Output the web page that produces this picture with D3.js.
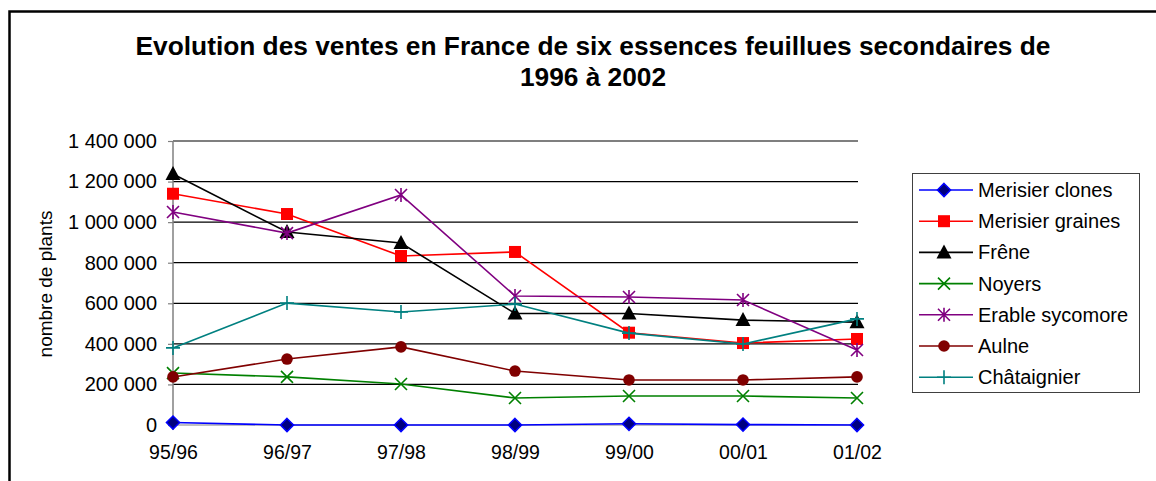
<!DOCTYPE html>
<html>
<head>
<meta charset="utf-8">
<script src="https://cdn.jsdelivr.net/npm/d3@7.9.0/dist/d3.min.js"></script>
<style>
  body { margin: 0; background: #fff; }
  svg { display: block; font-family: "Liberation Sans", Arial, sans-serif; }
</style>
</head>
<body>
<svg id="chart" width="1156" height="481"></svg>
<script>
// data
const seasons = ["95/96", "96/97", "97/98", "98/99", "99/00", "00/01", "01/02"];
const yTicks = [0, 200000, 400000, 600000, 800000, 1000000, 1200000, 1400000];

const merisierClones = [12000, 0, 0, 0, 6000, 2000, 0];
const merisierGraines = [1140000, 1040000, 833000, 853000, 455000, 404000, 424000];
const frene = [1237000, 951000, 897000, 550000, 550000, 517000, 507000];
const noyers = [256000, 237000, 202000, 133000, 143000, 143000, 133000];
const erable = [1050000, 946000, 1134000, 636000, 631000, 616000, 370000];
const aulne = [237000, 325000, 385000, 266000, 222000, 222000, 237000];
const chataignier = [380000, 601000, 557000, 596000, 453000, 399000, 523000];

const seriesNames = ["Merisier clones", "Merisier graines", "Frêne", "Noyers", "Erable sycomore", "Aulne", "Châtaignier"];
const seriesValues = [merisierClones, merisierGraines, frene, noyers, erable, aulne, chataignier];
const seriesColors = ["#0000ff", "#ff0000", "#000000", "#008000", "#800080", "#800000", "#008080"];
const markerTypes = ["diamond", "square", "triangle", "x", "star", "circle", "plus"];

const svg = d3.select("#chart");

// outer frame (only top and left edges are visible)
svg.append("path")
    .attr("d", "M9.5,481 V11.5 H1156")
    .attr("fill", "none")
    .attr("stroke", "#000")
    .attr("stroke-width", 2.5);

// title
const title = svg.append("text")
    .attr("text-anchor", "middle")
    .attr("font-weight", "bold")
    .attr("font-size", 26.3)
    .attr("fill", "#000");
title.append("tspan").attr("x", 593).attr("y", 55)
    .text("Evolution des ventes en France de six essences feuillues secondaires de");
title.append("tspan").attr("x", 593).attr("y", 86).text("1996 à 2002");

const x = d3.scalePoint().domain(seasons).range([173, 857]);
const y = d3.scaleLinear().domain([0, 1400000]).range([425, 141]);

// gridlines
svg.append("g")
    .selectAll("line")
    .data(yTicks.slice(1))
    .join("line")
    .attr("x1", 173).attr("x2", 858)
    .attr("y1", d => y(d)).attr("y2", d => y(d))
    .attr("stroke", "#000")
    .attr("stroke-width", 1.2);

// y axis
const fmt = d => d3.format(",")(d).replace(/,/g, " ");
const yAxis = svg.append("g")
    .attr("transform", "translate(173,0)")
    .call(d3.axisLeft(y).tickValues(yTicks).tickSize(5).tickPadding(11).tickFormat(fmt));
yAxis.select(".domain").attr("stroke", "#808080").attr("stroke-width", 1.5)
    .attr("d", `M0,${y(1400000)}V${y(0) + 5}`);
yAxis.selectAll(".tick line").attr("stroke", "#808080").attr("stroke-width", 1.2);
yAxis.selectAll(".tick text")
    .attr("font-size", 20)
    .attr("font-family", "Liberation Sans, Arial, sans-serif")
    .attr("fill", "#000");

// x axis
const xAxis = svg.append("g")
    .attr("transform", `translate(0,${y(0)})`)
    .call(d3.axisBottom(x).tickSize(0).tickPadding(20));
xAxis.select(".domain").attr("stroke", "#808080").attr("stroke-width", 1.2)
    .attr("d", `M173,0H858`);
xAxis.selectAll(".tick text")
    .attr("font-size", 19.5)
    .attr("font-family", "Liberation Sans, Arial, sans-serif")
    .attr("fill", "#000");

// y axis title
svg.append("text")
    .attr("transform", "translate(52,284) rotate(-90)")
    .attr("text-anchor", "middle")
    .attr("font-size", 19)
    .attr("fill", "#000")
    .text("nombre de plants");

// marker drawing
function drawMarker(g, type, color) {
    const s = 6;
    if (type === "diamond") {
        g.append("path").attr("d", d3.symbol(d3.symbolDiamond2, 110)())
            .attr("fill", "#000080").attr("stroke", color).attr("stroke-width", 1.5);
    } else if (type === "square") {
        g.append("rect").attr("x", -s).attr("y", -s).attr("width", 2 * s).attr("height", 2 * s)
            .attr("fill", color);
    } else if (type === "triangle") {
        g.append("path").attr("d", "M0,-8L7.5,6H-7.5Z").attr("fill", color);
    } else if (type === "circle") {
        g.append("circle").attr("r", 5.8).attr("fill", color);
    } else if (type === "x") {
        g.append("path").attr("d", `M${-s},${-s}L${s},${s}M${-s},${s}L${s},${-s}`)
            .attr("stroke", color).attr("stroke-width", 1.6);
    } else if (type === "star") {
        g.append("path").attr("d", `M${-s},${-s}L${s},${s}M${-s},${s}L${s},${-s}M0,${-s - 1}V${s + 1}`)
            .attr("stroke", color).attr("stroke-width", 1.6);
    } else if (type === "plus") {
        g.append("path").attr("d", `M${-s - 1},0H${s + 1}M0,${-s - 1}V${s + 1}`)
            .attr("stroke", color).attr("stroke-width", 1.6);
    }
}

const line = d3.line()
    .x((d, i) => x(seasons[i]))
    .y(d => y(d));

seriesValues.forEach((vals, k) => {
    const g = svg.append("g");
    g.append("path")
        .attr("d", line(vals))
        .attr("fill", "none")
        .attr("stroke", seriesColors[k])
        .attr("stroke-width", 1.6);
    vals.forEach((v, i) => {
        const m = g.append("g").attr("transform", `translate(${x(seasons[i])},${y(v)})`);
        drawMarker(m, markerTypes[k], seriesColors[k]);
    });
});

// legend
const legend = svg.append("g");
legend.append("rect")
    .attr("x", 912.5).attr("y", 173.5).attr("width", 227).attr("height", 219)
    .attr("fill", "#fff").attr("stroke", "#404040").attr("stroke-width", 1);

seriesNames.forEach((name, k) => {
    const cy = 190 + k * 31.2;
    const item = legend.append("g");
    item.append("line")
        .attr("x1", 919).attr("x2", 973).attr("y1", cy).attr("y2", cy)
        .attr("stroke", seriesColors[k]).attr("stroke-width", 1.6);
    drawMarker(item.append("g").attr("transform", `translate(944,${cy})`), markerTypes[k], seriesColors[k]);
    item.append("text")
        .attr("x", 978).attr("y", cy + 7)
        .attr("font-size", 20)
        .attr("fill", "#000")
        .text(name);
});
</script>
</body>
</html>
